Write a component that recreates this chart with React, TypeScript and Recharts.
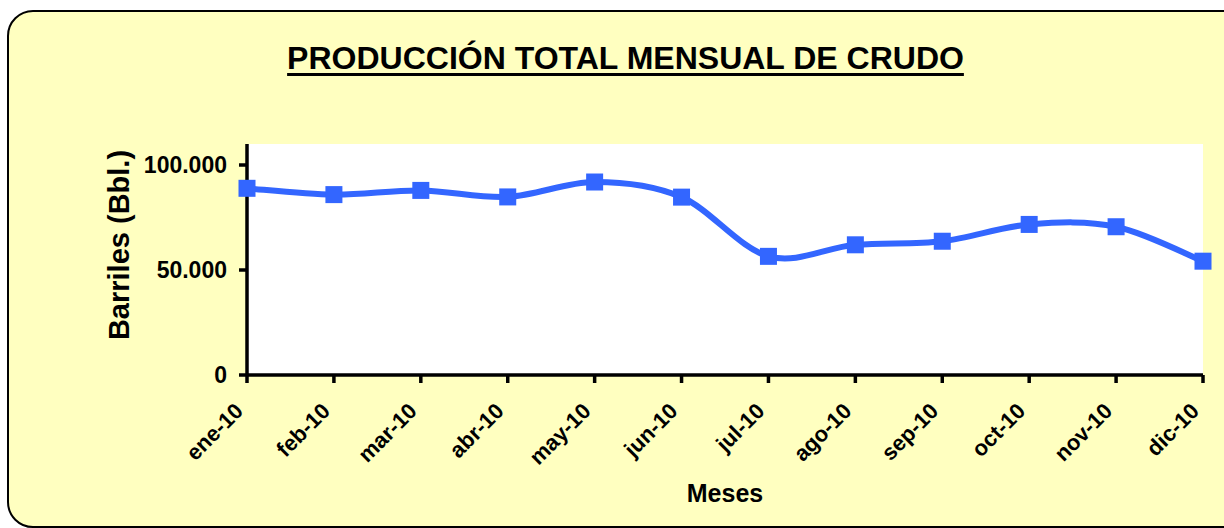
import React from "react";
import { LineChart, Line, XAxis, YAxis, CartesianGrid } from "recharts";

const months = ["ene-10", "feb-10", "mar-10", "abr-10", "may-10", "jun-10", "jul-10", "ago-10", "sep-10", "oct-10", "nov-10", "dic-10"];
const production = [88900, 85900, 87900, 84800, 91900, 84700, 56500, 62000, 63700, 71700, 70600, 54200];
const yTicks = [0, 50000, 100000];

const data = months.map((m, i) => ({ m, v: production[i] }));

const FONT = "'Liberation Sans', Arial, sans-serif";
const BLUE = "#3366FF";

const excelCurve = (context: any) => {
  let pts: number[][] = [];
  return {
    areaStart() {},
    areaEnd() {},
    lineStart() {
      pts = [];
    },
    point(x: number, y: number) {
      pts.push([+x, +y]);
    },
    lineEnd() {
      const n = pts.length;
      if (!n) return;
      context.moveTo(pts[0][0], pts[0][1]);
      for (let i = 0; i < n - 1; i++) {
        const p0 = pts[i - 1] || pts[i];
        const p1 = pts[i];
        const p2 = pts[i + 1];
        const p3 = pts[i + 2] || pts[i + 1];
        context.bezierCurveTo(
          p1[0] + (p2[0] - p0[0]) / 6,
          p1[1] + (p2[1] - p0[1]) / 6,
          p2[0] - (p3[0] - p1[0]) / 6,
          p2[1] - (p3[1] - p1[1]) / 6,
          p2[0],
          p2[1]
        );
      }
    },
  };
};

const fmt = (v: number) => String(v).replace(/\B(?=(\d{3})+(?!\d))/g, ".");

const XTick = (props: any) => {
  const { x, y, payload } = props;
  return (
    <g transform={`translate(${x - 8},${y + 22})`}>
      <text
        x={0}
        y={0}
        dy="0.35em"
        textAnchor="end"
        transform="rotate(-45)"
        fontFamily={FONT}
        fontWeight="bold"
        fontSize={22}
        fill="#000"
      >
        {payload.value}
      </text>
    </g>
  );
};

const SquareDot = (props: any) => {
  const { cx, cy } = props;
  if (cx == null || cy == null) return null;
  const s = 17;
  return <rect x={cx - s / 2} y={cy - s / 2} width={s} height={s} fill={BLUE} />;
};

export default function App() {
  return (
    <div style={{ position: "fixed", left: 0, top: 0, width: 1224, height: 528, overflow: "hidden", background: "#fff" }}>
      <div
        style={{
          position: "absolute",
          left: 7,
          top: 10,
          width: 1240,
          height: 514,
          border: "2.5px solid #000",
          borderRadius: 26,
          background: "#FFFFC0",
        }}
      />
      <div
        style={{
          position: "absolute",
          left: 0,
          top: 40,
          width: 1251,
          textAlign: "center",
          fontFamily: FONT,
          fontWeight: "bold",
          fontSize: 32,
          textDecoration: "underline",
          textDecorationThickness: 3,
          textUnderlineOffset: 4,
          color: "#000",
          lineHeight: "36px",
        }}
      >
        PRODUCCIÓN TOTAL MENSUAL DE CRUDO
      </div>
      <div style={{ position: "absolute", left: 0, top: 0 }}>
        <LineChart width={1224} height={528} data={data} margin={{ top: 144, right: 21, bottom: 0, left: 0 }}>
          <CartesianGrid horizontal={false} vertical={false} fill="#FFFFFF" stroke="none" />
          <XAxis
            dataKey="m"
            interval={0}
            height={153}
            tick={<XTick />}
            tickSize={8}
            stroke="#000"
            strokeWidth={3.5}
            tickLine={{ stroke: "#000", strokeWidth: 3.5 }}
            label={(p: any) => (
              <text x={725} y={502} textAnchor="middle" fontFamily={FONT} fontWeight="bold" fontSize={25} fill="#000">
                Meses
              </text>
            )}
          />
          <YAxis
            width={247}
            domain={[0, 110000]}
            ticks={yTicks}
            tickFormatter={fmt}
            tickSize={8}
            tickMargin={12}
            stroke="#000"
            strokeWidth={3.5}
            tick={{ fontFamily: FONT, fontWeight: "bold", fontSize: 23, fill: "#000" }}
            tickLine={{ stroke: "#000", strokeWidth: 3.5 }}
            label={(p: any) => (
              <text
                x={0}
                y={0}
                transform="translate(129,245) rotate(-90)"
                textAnchor="middle"
                fontFamily={FONT}
                fontWeight="bold"
                fontSize={29}
                fill="#000"
              >
                Barriles (Bbl.)
              </text>
            )}
          />
          <Line
            dataKey="v"
            type={excelCurve as any}
            stroke={BLUE}
            strokeWidth={6}
            dot={<SquareDot />}
            activeDot={false}
            isAnimationActive={false}
          />
        </LineChart>
      </div>
    </div>
  );
}
